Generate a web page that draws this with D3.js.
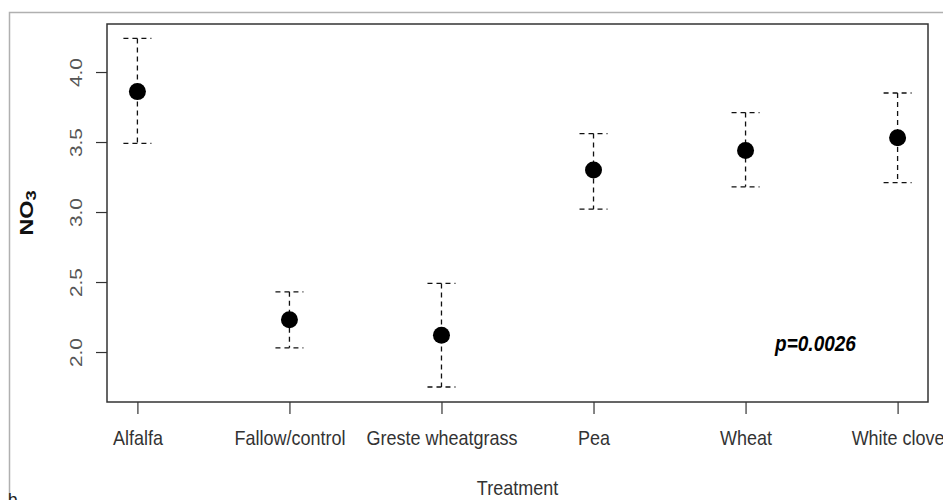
<!DOCTYPE html>
<html>
<head>
<meta charset="utf-8">
<script src="https://cdn.jsdelivr.net/npm/d3@7"></script>
<style>
  body { margin: 0; background: #fff; }
  svg { display: block; font-family: "Liberation Sans", Arial, sans-serif; }
</style>
</head>
<body>
<svg id="chart" width="943" height="500"></svg>
<script>
// treatments and NO3 means with upper / lower bounds
const treatments = ['Alfalfa', 'Fallow/control', 'Greste wheatgrass', 'Pea', 'Wheat', 'White clove'];
const means = [3.86, 2.23, 2.12, 3.30, 3.44, 3.53];
const upper = [4.24, 2.43, 2.49, 3.56, 3.71, 3.85];
const lower = [3.49, 2.03, 1.75, 3.02, 3.18, 3.21];
const yTicks = [2.0, 2.5, 3.0, 3.5, 4.0];
const pLabel = 'p=0.0026';

const svg = d3.select('#chart');

// outer frame (light grey, like the screenshot border)
svg.append('path')
    .attr('d', 'M9.5,500 V12.5 H943')
    .attr('fill', 'none')
    .attr('stroke', '#b0b0b0')
    .attr('stroke-width', 1.5);

const plotL = 107, plotR = 928, plotT = 24, plotB = 402;

const x = d3.scaleLinear()
    .domain([0.8, 6.2])
    .range([plotL, plotR]);

const y = d3.scaleLinear()
    .domain([1.643, 4.343])
    .range([plotB, plotT]);

// plot box
svg.append('rect')
    .attr('x', plotL)
    .attr('y', plotT)
    .attr('width', plotR - plotL)
    .attr('height', plotB - plotT)
    .attr('fill', 'none')
    .attr('stroke', '#333')
    .attr('stroke-width', 1.5);

// y axis
const yAxis = d3.axisLeft(y)
    .tickValues(yTicks)
    .tickFormat(d3.format('.1f'))
    .tickSize(11);

const gy = svg.append('g')
    .attr('transform', `translate(${plotL},0)`)
    .call(yAxis);
gy.select('.domain').remove();
gy.selectAll('.tick line').attr('stroke', '#333').attr('stroke-width', 1.2);
// the source picture is stretched vertically, so the labels are too
gy.selectAll('.tick text')
    .attr('font-size', 16)
    .attr('fill', '#555')
    .attr('text-anchor', 'middle')
    .attr('x', 0)
    .attr('y', 0)
    .attr('dy', null)
    .attr('transform', 'translate(-25,0) rotate(-90) scale(1.3,1)');

// x axis
const xAxis = d3.axisBottom(x)
    .tickValues(d3.range(1, treatments.length + 1))
    .tickFormat(i => treatments[i - 1])
    .tickSize(12);

const gx = svg.append('g')
    .attr('transform', `translate(0,${plotB})`)
    .call(xAxis);
gx.select('.domain').remove();
gx.selectAll('.tick line').attr('stroke', '#333').attr('stroke-width', 1.2);
gx.selectAll('.tick text')
    .attr('font-size', 18)
    .attr('fill', '#333')
    .attr('y', 0)
    .attr('dy', null)
    .attr('transform', 'translate(0,43) scale(1,1.15)');

// axis titles
svg.append('text')
    .attr('transform', `translate(${x(3.5)},495) scale(1,1.15)`)
    .attr('text-anchor', 'middle')
    .attr('font-size', 18)
    .attr('fill', '#333')
    .text('Treatment');

const yt = svg.append('text')
    .attr('transform', `translate(33,${(plotT + plotB) / 2}) rotate(-90) scale(1.3,1)`)
    .attr('text-anchor', 'middle')
    .attr('font-size', 18)
    .attr('font-weight', 'bold')
    .attr('fill', '#111');
yt.append('tspan').text('NO');
yt.append('tspan').attr('font-size', 14).attr('dy', 3).text('3');

// error bars
const bars = svg.append('g')
    .attr('stroke', '#111')
    .attr('stroke-width', 1.3)
    .attr('stroke-dasharray', '5,4')
    .attr('fill', 'none');

treatments.forEach((t, i) => {
    const cx = x(i + 1);
    bars.append('line')
        .attr('x1', cx).attr('x2', cx)
        .attr('y1', y(upper[i])).attr('y2', y(lower[i]));
    bars.append('line')
        .attr('x1', cx - 14).attr('x2', cx + 14)
        .attr('y1', y(upper[i])).attr('y2', y(upper[i]));
    bars.append('line')
        .attr('x1', cx - 14).attr('x2', cx + 14)
        .attr('y1', y(lower[i])).attr('y2', y(lower[i]));
});

// means
svg.append('g')
    .selectAll('circle')
    .data(means)
    .join('circle')
    .attr('cx', (d, i) => x(i + 1))
    .attr('cy', d => y(d))
    .attr('r', 8.5)
    .attr('fill', '#000');

// p value
svg.append('text')
    .attr('transform', `translate(${x(5.46)},${y(2.05) + 6}) scale(1,1.15)`)
    .attr('text-anchor', 'middle')
    .attr('font-size', 19)
    .attr('font-weight', 'bold')
    .attr('font-style', 'italic')
    .attr('fill', '#000')
    .text(pLabel);

// cut-off panel letter at the bottom left
svg.append('text')
    .attr('x', 8)
    .attr('y', 505)
    .attr('font-size', 17)
    .attr('fill', '#222')
    .text('b');
</script>
</body>
</html>
